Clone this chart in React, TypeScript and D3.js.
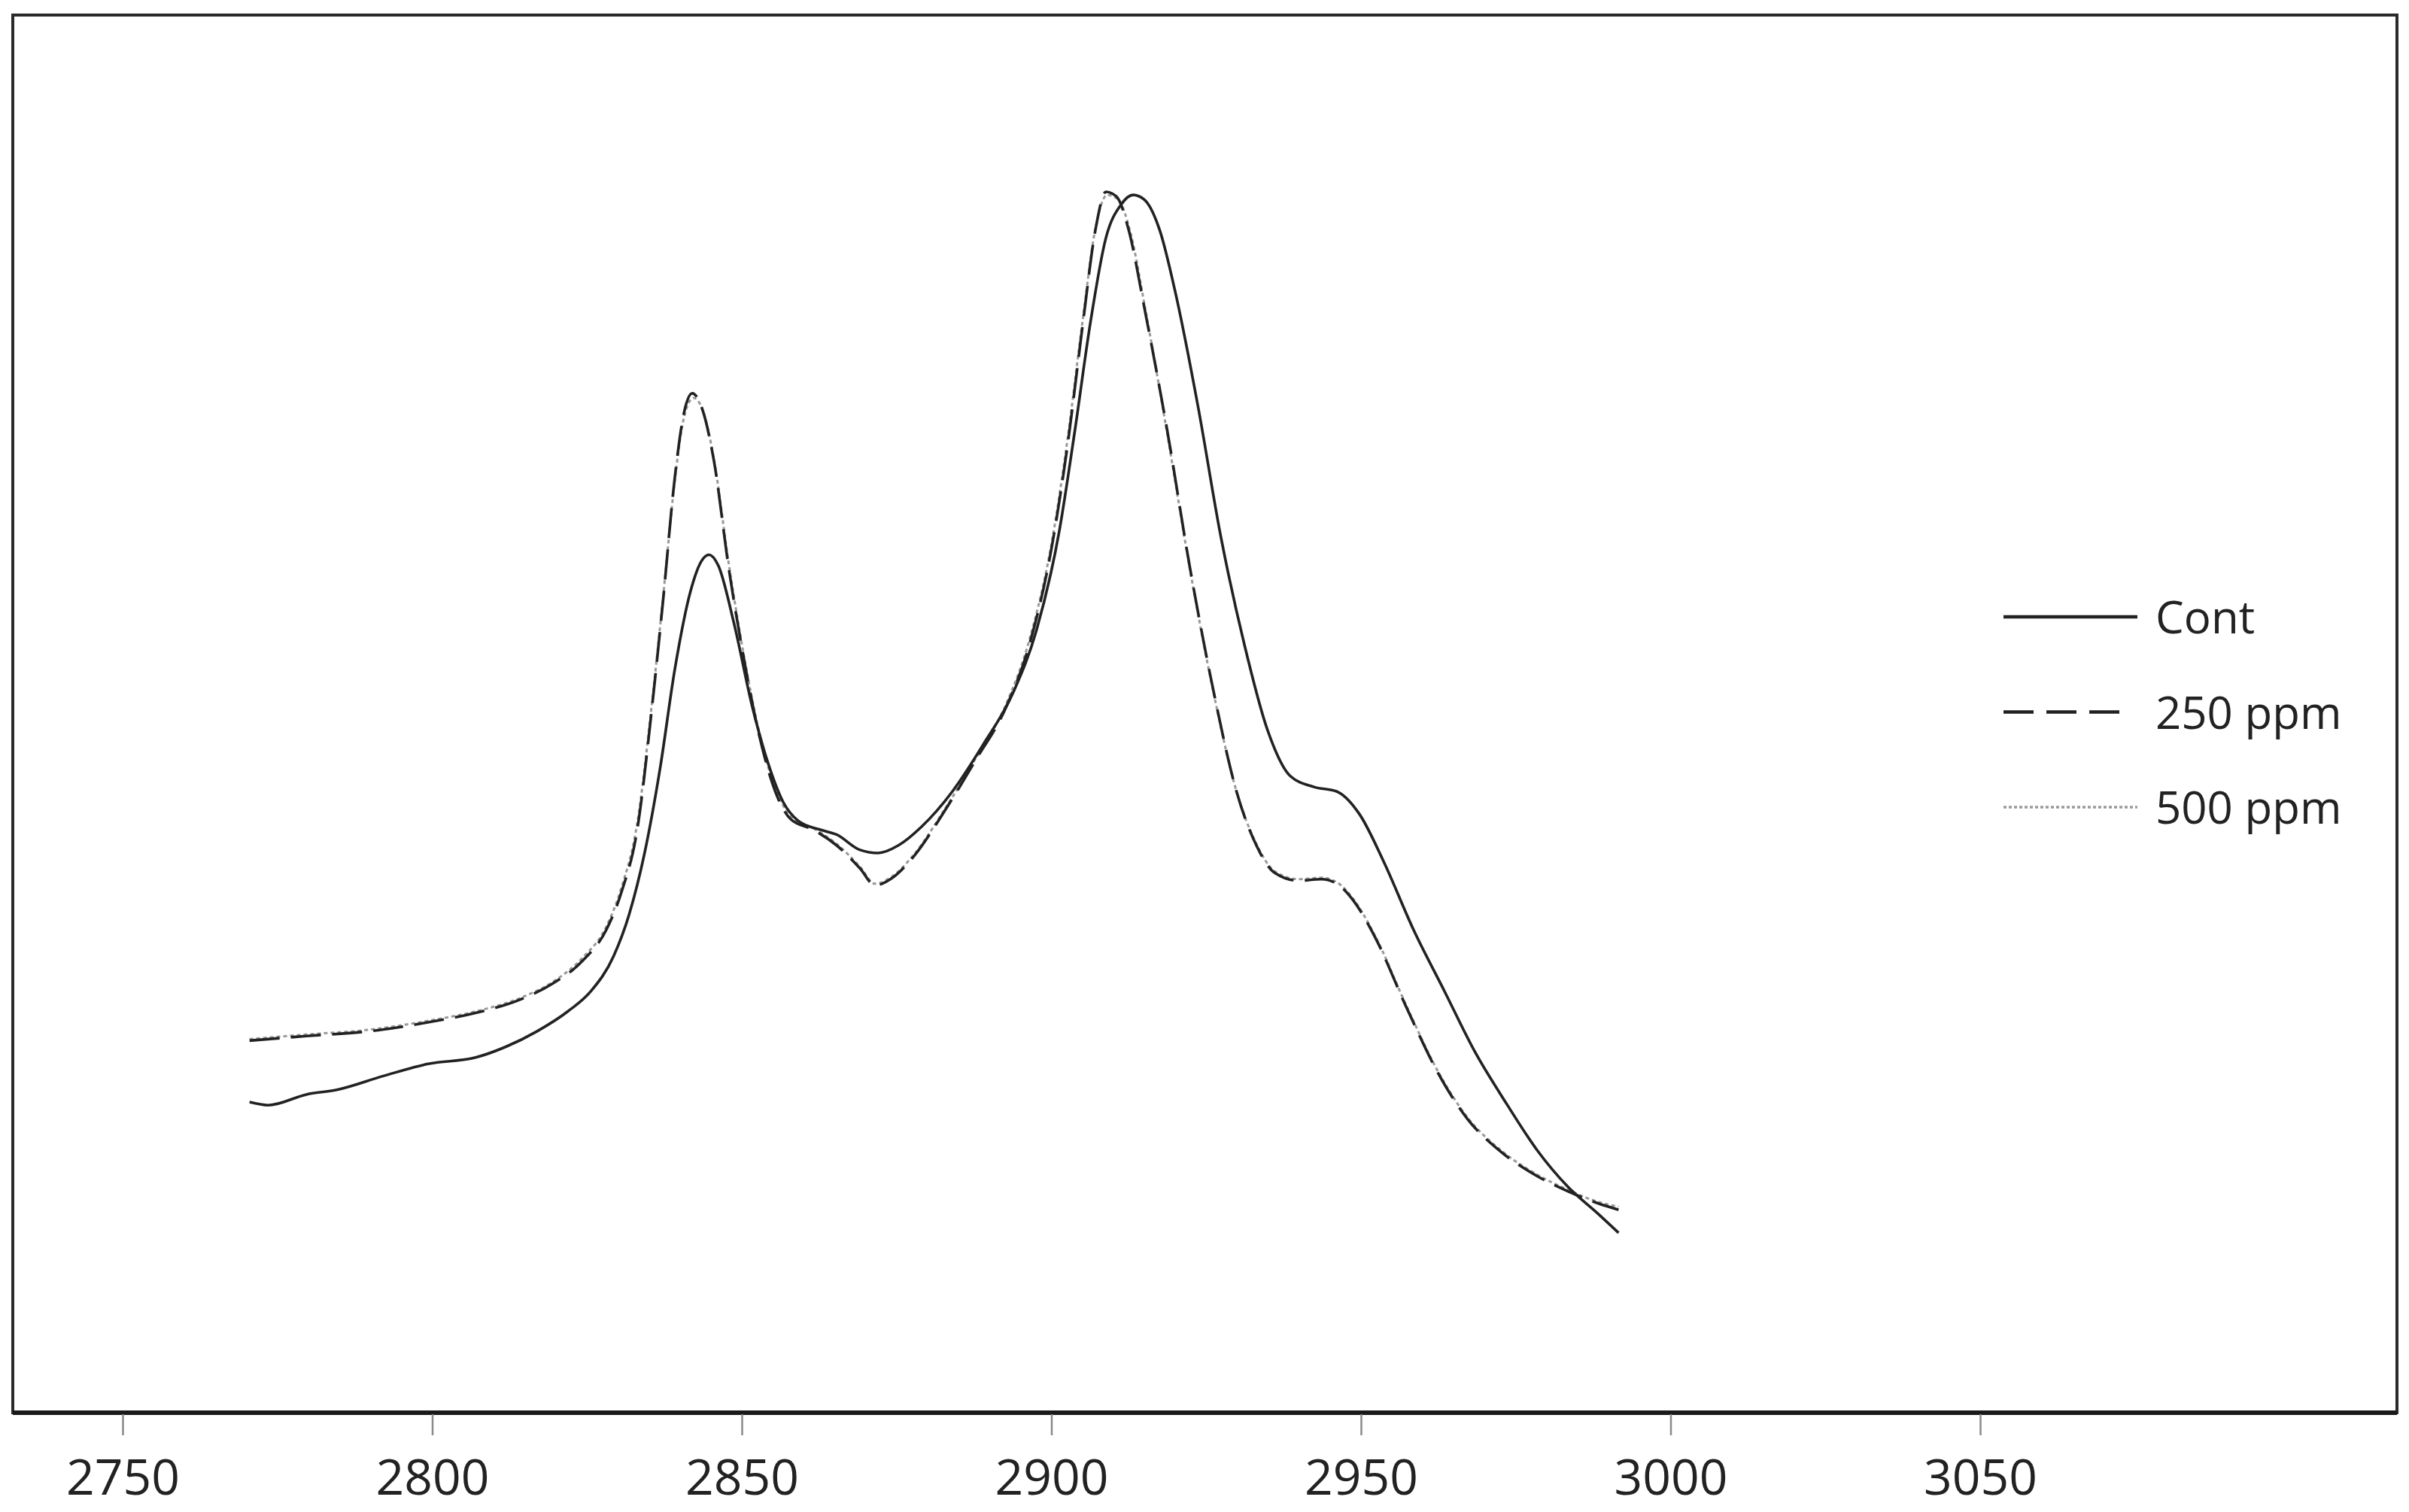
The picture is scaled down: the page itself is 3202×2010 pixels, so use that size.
import React, { useEffect, useRef } from 'react';
import * as d3 from 'd3';

const WIDTH = 3202;
const HEIGHT = 2010;
// plot frame in page pixels
const FRAME = { l: 17, t: 20, r: 3186, b: 1878 };

const xTicks = [2750, 2800, 2850, 2900, 2950, 3000, 3050];
const seriesNames = ['Cont', '250 ppm', '500 ppm'];

// Cont (solid)
const contX = [
  2770.5, 2773.5, 2779.7, 2784.6, 2792.1, 2799.5, 2807.0, 2811.9, 2816.9, 2821.9, 2825.6, 2829.3,
  2831.8, 2834.3, 2836.8, 2839.2, 2841.7, 2843.5, 2844.7, 2846.2, 2848.7, 2851.7, 2854.2, 2856.7,
  2859.1, 2862.8, 2865.3, 2869.1, 2872.0, 2875.3, 2879.0, 2884.0, 2888.9, 2893.9, 2897.6, 2901.3,
  2903.8, 2906.3, 2908.8, 2911.3, 2913.2, 2915.0, 2917.5, 2920.0, 2923.7, 2927.4, 2931.2, 2934.9,
  2938.6, 2942.4, 2946.1, 2949.8, 2953.6, 2958.5, 2963.5, 2968.5, 2973.5, 2978.4, 2983.4, 2988.4,
  2991.6,
];
const contY = [
  0.202, 0.2, 0.207, 0.21, 0.219, 0.227, 0.231, 0.238, 0.248, 0.261, 0.274, 0.297,
  0.324, 0.364, 0.419, 0.484, 0.534, 0.554, 0.558, 0.551, 0.514, 0.459, 0.423, 0.397,
  0.385, 0.379, 0.376, 0.366, 0.364, 0.369, 0.381, 0.404, 0.434, 0.469, 0.509, 0.574,
  0.639, 0.709, 0.764, 0.786, 0.792, 0.789, 0.769, 0.729, 0.654, 0.569, 0.499, 0.444,
  0.414, 0.407, 0.404, 0.389, 0.359, 0.314, 0.274, 0.234, 0.201, 0.171, 0.147, 0.129,
  0.117,
];

// 250 ppm (dashed)
const ppm250X = [
  2770.5, 2779.7, 2789.6, 2799.5, 2807.0, 2814.4, 2819.4, 2824.3, 2828.1, 2830.6, 2833.1, 2835.5,
  2837.3, 2839.2, 2840.7, 2842.0, 2843.5, 2845.5, 2847.9, 2850.4, 2852.9, 2855.4, 2857.9, 2861.6,
  2865.3, 2869.1, 2871.5, 2874.0, 2877.8, 2882.7, 2887.7, 2892.7, 2896.4, 2900.1, 2902.6, 2905.1,
  2907.1, 2908.8, 2910.5, 2912.5, 2915.0, 2918.7, 2922.4, 2926.2, 2929.9, 2933.1, 2936.1, 2939.9,
  2943.6, 2946.1, 2948.6, 2952.3, 2957.3, 2962.3, 2967.2, 2972.2, 2978.4, 2983.4, 2988.4, 2991.6,
];
const ppm250Y = [
  0.242, 0.245, 0.248, 0.254, 0.26, 0.269, 0.279, 0.294, 0.314, 0.339, 0.379, 0.459,
  0.529, 0.609, 0.651, 0.663, 0.654, 0.619, 0.549, 0.489, 0.439, 0.404, 0.386, 0.379,
  0.369, 0.354, 0.343, 0.347, 0.362, 0.391, 0.424, 0.459, 0.499, 0.564, 0.629, 0.709,
  0.769, 0.794, 0.791, 0.769, 0.719, 0.639, 0.549, 0.469, 0.404, 0.369, 0.351, 0.346,
  0.347, 0.344, 0.334, 0.309, 0.264, 0.222, 0.191, 0.171, 0.154, 0.144, 0.136, 0.132,
];

// 500 ppm (grey dotted, nearly on top of 250 ppm)
const ppm500X = [
  2770.5, 2779.7, 2789.6, 2799.5, 2807.0, 2814.4, 2819.4, 2824.3, 2828.1, 2830.6, 2833.1, 2835.5,
  2837.3, 2839.2, 2840.7, 2842.2, 2843.7, 2845.5, 2847.9, 2850.4, 2852.9, 2855.4, 2857.9, 2861.6,
  2865.3, 2869.1, 2871.5, 2874.0, 2877.8, 2882.7, 2887.7, 2892.7, 2896.4, 2900.1, 2902.6, 2905.1,
  2907.1, 2909.0, 2910.8, 2912.8, 2915.2, 2918.7, 2922.4, 2926.2, 2929.9, 2933.1, 2936.1, 2939.9,
  2943.6, 2946.1, 2948.6, 2952.3, 2957.3, 2962.3, 2967.2, 2972.2, 2978.4, 2983.4, 2988.4, 2991.6,
];
const ppm500Y = [
  0.243, 0.246, 0.249, 0.255, 0.261, 0.27, 0.28, 0.296, 0.316, 0.342, 0.383, 0.462,
  0.531, 0.607, 0.648, 0.66, 0.652, 0.62, 0.552, 0.491, 0.441, 0.406, 0.388, 0.38,
  0.37, 0.355, 0.344, 0.348, 0.363, 0.392, 0.425, 0.461, 0.502, 0.567, 0.633, 0.712,
  0.77, 0.792, 0.789, 0.767, 0.717, 0.637, 0.548, 0.468, 0.404, 0.37, 0.352, 0.347,
  0.348, 0.345, 0.335, 0.31, 0.265, 0.223, 0.192, 0.172, 0.155, 0.145, 0.137, 0.134,
];

const styles = [
  { stroke: '#222', width: 3.6, dash: 'none' },
  { stroke: '#222', width: 3.6, dash: '40,15' },
  { stroke: '#9a9a9a', width: 3, dash: '5,4' },
];

const App = () => {
  const $xaxis = useRef<SVGGElement>(null);

  // 2750 sits at x=163 and 3050 at x=2632
  const pxPerUnit = (2632 - 163) / 300;
  const xScale = d3
    .scaleLinear()
    .domain([2750 - (163 - FRAME.l) / pxPerUnit, 3050 + (FRAME.r - 2632) / pxPerUnit])
    .range([FRAME.l, FRAME.r]);
  const yScale = d3.scaleLinear().domain([0, 0.909]).range([FRAME.b, FRAME.t]);

  const line = d3
    .line<[number, number]>()
    .x((d) => xScale(d[0]))
    .y((d) => yScale(d[1]))
    .curve(d3.curveMonotoneX);

  const series = [
    d3.zip(contX, contY),
    d3.zip(ppm250X, ppm250Y),
    d3.zip(ppm500X, ppm500Y),
  ] as [number, number][][];

  useEffect(() => {
    const axis = d3
      .axisBottom(xScale)
      .tickValues(xTicks)
      .tickSize(28)
      .tickPadding(32)
      .tickFormat(d3.format('d') as any);
    const g = d3.select($xaxis.current!);
    g.call(axis);
    g.select('.domain').remove();
    g.selectAll('.tick line').attr('stroke', '#8a8a8a').attr('stroke-width', 2.5);
    g.selectAll('.tick text')
      .attr('fill', '#222')
      .style('font-family', '"Open Sans", sans-serif')
      .style('font-size', '66px');
  }, [xScale]);

  return (
    <svg
      width={WIDTH}
      height={HEIGHT}
      viewBox={`0 0 ${WIDTH} ${HEIGHT}`}
      style={{ position: 'absolute', left: 0, top: 0, background: '#fff' }}
    >
      <rect x={0} y={0} width={WIDTH} height={HEIGHT} fill="#fff" />
      <rect
        x={FRAME.l}
        y={FRAME.t}
        width={FRAME.r - FRAME.l}
        height={FRAME.b - FRAME.t}
        fill="none"
        stroke="#2a2a2a"
        strokeWidth={4}
      />
      <line x1={FRAME.l} x2={FRAME.r} y1={FRAME.b} y2={FRAME.b} stroke="#1a1a1a" strokeWidth={6} />
      <g ref={$xaxis} transform={`translate(0, ${FRAME.b + 2})`} />

      {/* draw 500 ppm first so the dashed line sits over it */}
      {[2, 1, 0].map((i) => (
        <path
          key={seriesNames[i]}
          d={line(series[i]) || ''}
          fill="none"
          stroke={styles[i].stroke}
          strokeWidth={styles[i].width}
          strokeDasharray={styles[i].dash}
          strokeLinejoin="round"
        />
      ))}

      <g transform="translate(2663, 820)">
        {seriesNames.map((name, i) => (
          <g key={name} transform={`translate(0, ${i * 126.5})`}>
            <line
              x1={0}
              x2={i === 1 ? 160 : 178}
              y1={0}
              y2={0}
              stroke={styles[i].stroke}
              strokeWidth={i === 2 ? 3.5 : 4.5}
              strokeDasharray={i === 1 ? '40,17' : i === 2 ? '4,3' : 'none'}
            />
            <text
              x={202}
              y={22}
              fill="#222"
              style={{ fontFamily: '"Open Sans", sans-serif', fontSize: '60px' }}
            >
              {name}
            </text>
          </g>
        ))}
      </g>
    </svg>
  );
};

export default App;
